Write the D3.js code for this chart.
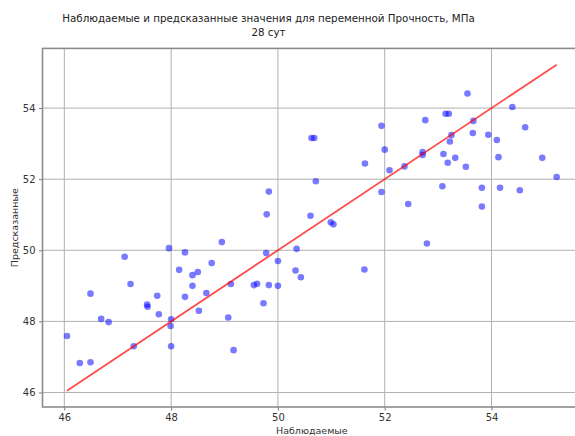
<!DOCTYPE html>
<html>
<head>
<meta charset="utf-8">
<script src="https://cdn.jsdelivr.net/npm/d3@7/dist/d3.min.js"></script>
<style>
  html, body { margin: 0; padding: 0; background: #fff; }
  svg { display: block; font-family: "DejaVu Sans", sans-serif; }
</style>
</head>
<body>
<svg id="chart" width="575" height="436"></svg>
<script>
// Observed vs predicted strength, 28 days
const observed = [
  53.55, 54.39, 53.14, 53.20, 52.76, 53.66, 51.94, 54.63, 50.63, 50.68,
  53.65, 53.94, 54.10, 53.25, 53.22, 52.00, 52.71, 52.71, 53.10, 53.32,
  54.13, 54.95, 51.63, 53.18, 52.09, 52.37, 53.52, 50.71, 55.22, 51.94,
  53.08, 53.82, 54.16, 54.53, 52.44, 53.82, 50.61, 50.99, 51.04, 49.83,
  49.79, 48.95, 47.96, 48.26, 47.13, 50.35, 49.78, 48.76, 50.00, 48.15,
  50.33, 48.40, 48.50, 50.43, 47.24, 49.12, 49.55, 49.61, 49.83, 50.00,
  48.40, 46.49, 48.66, 48.26, 47.74, 47.55, 47.56, 49.73, 47.77, 48.52,
  46.69, 46.83, 49.07, 48.00, 47.99, 46.05, 47.30, 48.00, 49.17, 46.29,
  46.49, 52.79, 51.62
];
const predicted = [
  54.41, 54.03, 53.84, 53.84, 53.66, 53.64, 53.50, 53.46, 53.16, 53.16,
  53.30, 53.25, 53.10, 53.24, 53.06, 52.83, 52.76, 52.68, 52.71, 52.60,
  52.62, 52.60, 52.44, 52.46, 52.25, 52.36, 52.35, 51.94, 52.06, 51.64,
  51.80, 51.76, 51.76, 51.69, 51.30, 51.23, 50.97, 50.79, 50.73, 51.65,
  51.01, 50.23, 50.06, 49.94, 49.82, 50.04, 49.92, 49.64, 49.70, 49.45,
  49.43, 49.30, 49.39, 49.24, 49.05, 49.05, 49.02, 49.06, 49.02, 49.00,
  49.00, 48.78, 48.80, 48.69, 48.72, 48.47, 48.41, 48.51, 48.20, 48.30,
  48.07, 47.98, 48.11, 48.06, 47.87, 47.59, 47.30, 47.30, 47.19, 46.83,
  46.85, 50.19, 49.46
];
const tickValues = [46, 48, 50, 52, 54];
const titleLines = [
  "Наблюдаемые и предсказанные значения для переменной Прочность, МПа",
  "28 сут"
];
const xLabel = "Наблюдаемые";
const yLabel = "Предсказанные";

const svg = d3.select("#chart");

// Reference line spans the observed range
const [lo, hi] = d3.extent(observed);
const pad = (hi - lo) * 0.05;
const domain = [lo - pad, hi + pad];

const left = 42.5, bottom = 407;
const pxPerUnitX = 53.4, pxPerUnitY = 35.55;
const span = domain[1] - domain[0];

const x = d3.scaleLinear().domain(domain).range([left, left + span * pxPerUnitX]);
const y = d3.scaleLinear().domain(domain).range([bottom, bottom - span * pxPerUnitY]);

const [x0, x1] = x.range();
const [y0, y1] = y.range();

// Grid
const grid = svg.append("g").attr("stroke", "#b0b0b0").attr("stroke-width", 1);
grid.selectAll("line.v").data(tickValues).join("line")
  .attr("x1", d => x(d)).attr("x2", d => x(d))
  .attr("y1", y0).attr("y2", y1);
grid.selectAll("line.h").data(tickValues).join("line")
  .attr("x1", x0).attr("x2", x1)
  .attr("y1", d => y(d)).attr("y2", d => y(d));

// Axes
const xAxis = d3.axisBottom(x).tickValues(tickValues).tickSize(3.5).tickPadding(3.5);
const yAxis = d3.axisLeft(y).tickValues(tickValues).tickSize(3.5).tickPadding(3.5);

const gx = svg.append("g").attr("transform", `translate(0,${y0})`).call(xAxis);
const gy = svg.append("g").attr("transform", `translate(${x0},0)`).call(yAxis);
[gx, gy].forEach(g => {
  g.select(".domain").remove();
  g.selectAll(".tick line").attr("stroke", "#555").attr("stroke-width", 0.8);
  g.selectAll(".tick text").attr("fill", "#333").style("font-size", "10px")
    .style("font-family", "DejaVu Sans, sans-serif");
});

// Frame
svg.append("rect")
  .attr("x", x0).attr("y", y1)
  .attr("width", x1 - x0).attr("height", y0 - y1)
  .attr("fill", "none").attr("stroke", "#8c8c8c").attr("stroke-width", 1.6);

// Points
svg.append("g").selectAll("circle").data(observed).join("circle")
  .attr("cx", d => x(d))
  .attr("cy", (d, i) => y(predicted[i]))
  .attr("r", 3.3)
  .attr("fill", "#0000ff")
  .attr("fill-opacity", 0.52);

// Identity line
svg.append("line")
  .attr("x1", x(lo)).attr("y1", y(lo))
  .attr("x2", x(hi)).attr("y2", y(hi))
  .attr("stroke", "#ff0000").attr("stroke-opacity", 0.7).attr("stroke-width", 1.8);

// Title
svg.append("text").attr("x", 268.5).attr("y", 21.5).attr("text-anchor", "middle")
  .attr("fill", "#222").style("font-size", "10.3px").text(titleLines[0]);
svg.append("text").attr("x", 268.5).attr("y", 35.5).attr("text-anchor", "middle")
  .attr("fill", "#222").style("font-size", "10.3px").text(titleLines[1]);

// Axis labels
svg.append("text").attr("x", (x0 + x1) / 2).attr("y", 434).attr("text-anchor", "middle")
  .attr("fill", "#333").style("font-size", "9.5px").text(xLabel);
svg.append("text").attr("transform", `translate(17.5,${(y0 + y1) / 2}) rotate(-90)`)
  .attr("text-anchor", "middle")
  .attr("fill", "#333").style("font-size", "9.5px").text(yLabel);
</script>
</body>
</html>
